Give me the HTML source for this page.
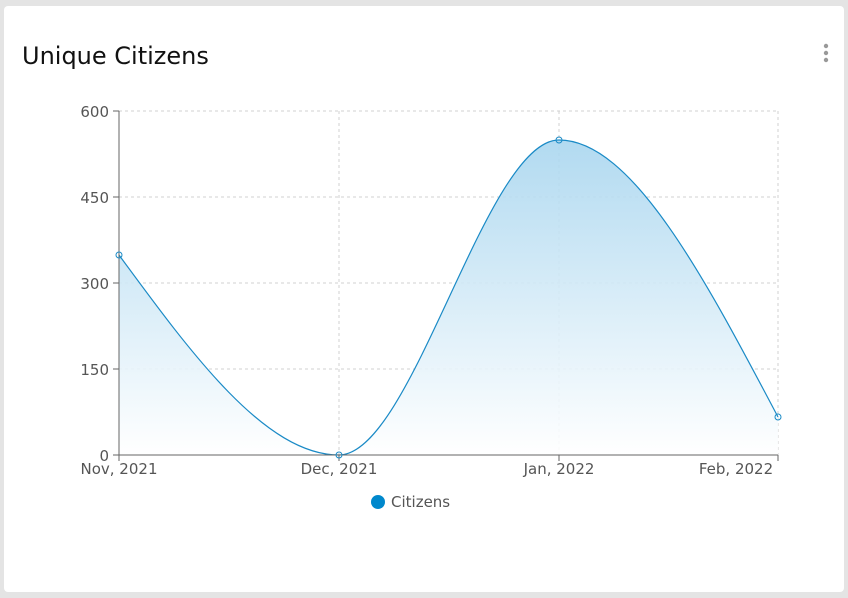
<!DOCTYPE html>
<html><head><meta charset="utf-8"><style>
html,body{margin:0;padding:0;background:#e4e4e4;width:848px;height:598px;overflow:hidden}
.card{position:absolute;left:4px;top:6px;width:840px;height:586px;background:#fff;border-radius:4px}
.title{position:absolute;font:24px "DejaVu Sans","Liberation Sans",sans-serif;color:#111}
svg{position:absolute;left:0;top:0}
text{font-family:"DejaVu Sans","Liberation Sans",sans-serif;font-size:15px;fill:#555}
</style></head><body>
<div class="card"></div>
<div class="title" style="left:22px;top:42px">Unique Citizens</div>
<svg width="848" height="598">
<defs><linearGradient id="g" x1="0" y1="0" x2="0" y2="1">
<stop offset="0" stop-color="#a9d6ef" stop-opacity="0.9"/><stop offset="1" stop-color="#ffffff" stop-opacity="0.9"/></linearGradient></defs>
<circle cx="826" cy="46" r="2.2" fill="#999"/><circle cx="826" cy="53" r="2.2" fill="#999"/><circle cx="826" cy="60" r="2.2" fill="#999"/>
<g stroke="#d0d0d0" stroke-dasharray="3,3" fill="none">
<line x1="119" y1="111" x2="778" y2="111"/><line x1="119" y1="197" x2="778" y2="197"/>
<line x1="119" y1="283" x2="778" y2="283"/><line x1="119" y1="369" x2="778" y2="369"/>
<line x1="339" y1="111" x2="339" y2="455"/><line x1="559" y1="111" x2="559" y2="455"/><line x1="778" y1="111" x2="778" y2="455"/>
</g>
<path d="M119,255 C192.3,355 265.7,455 339,455 C412.3,455 485.7,140 559,140 C632,140 705,278.5 778,417 L778,455 L119,455 Z" fill="url(#g)"/>
<path d="M119,255 C192.3,355 265.7,455 339,455 C412.3,455 485.7,140 559,140 C632,140 705,278.5 778,417" fill="none" stroke="#1a8ac6" stroke-width="1.2"/>
<line x1="119" y1="111" x2="119" y2="455" stroke="#666"/>
<line x1="119" y1="455" x2="778" y2="455" stroke="#666"/>
<g stroke="#666"><line x1="113" y1="111" x2="119" y2="111"/><line x1="113" y1="197" x2="119" y2="197"/><line x1="113" y1="283" x2="119" y2="283"/><line x1="113" y1="369" x2="119" y2="369"/><line x1="113" y1="455" x2="119" y2="455"/>
<line x1="119" y1="455" x2="119" y2="461"/><line x1="339" y1="455" x2="339" y2="461"/><line x1="559" y1="455" x2="559" y2="461"/><line x1="778" y1="455" x2="778" y2="461"/></g>
<g fill="none" stroke="#1a8ac6"><circle cx="119" cy="255" r="3"/><circle cx="339" cy="455" r="3"/><circle cx="559" cy="140" r="3"/><circle cx="778" cy="417" r="3"/></g>
<g text-anchor="end"><text x="109" y="117">600</text><text x="109" y="203">450</text><text x="109" y="289">300</text><text x="109" y="375">150</text><text x="109" y="461">0</text></g>
<g text-anchor="middle"><text x="119" y="474">Nov, 2021</text><text x="339" y="474">Dec, 2021</text><text x="559" y="474">Jan, 2022</text><text x="736" y="474">Feb, 2022</text></g>
<circle cx="378" cy="502" r="7" fill="#0088cc"/>
<text x="391" y="507">Citizens</text>
</svg>
</body></html>
